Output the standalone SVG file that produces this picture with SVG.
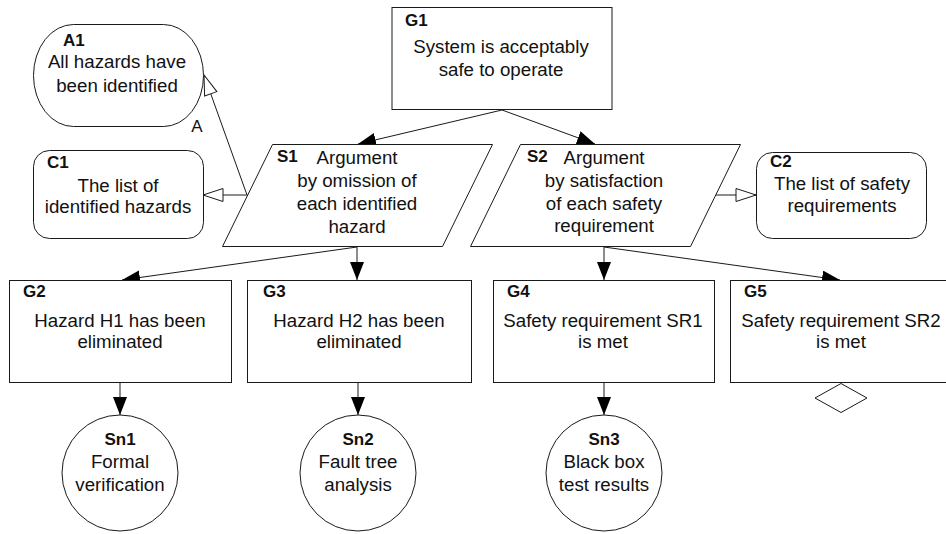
<svg xmlns="http://www.w3.org/2000/svg" width="946" height="534" viewBox="0 0 946 534">
  <style>
    .shape { fill: #ffffff; stroke: #1a1a1a; stroke-width: 1; }
    .link { fill: none; stroke: #1a1a1a; stroke-width: 1; }
    .txt { font-family: "Liberation Sans", Arial, sans-serif; font-size: 18.7px; fill: #111111; text-anchor: middle; }
    .id { font-family: "Liberation Sans", Arial, sans-serif; font-size: 17px; font-weight: bold; fill: #111111; }
    .idc { text-anchor: middle; }
  </style>
  <defs>
    <marker id="solid" markerUnits="userSpaceOnUse" markerWidth="20" markerHeight="16" refX="18" refY="7" orient="auto">
      <path d="M0,0 L18,7 L0,14 Z" fill="#000000"/>
    </marker>
    <marker id="hollow" markerUnits="userSpaceOnUse" markerWidth="24" markerHeight="18" refX="21" refY="8" orient="auto">
      <path d="M1,1.5 L21,8 L1,14.5 Z" fill="#ffffff" stroke="#1a1a1a" stroke-width="1"/>
    </marker>
  </defs>

  <!-- connectors -->
  <g id="connectors">
    <line class="link" x1="502" y1="110" x2="358" y2="144" marker-end="url(#solid)"/>
    <line class="link" x1="502" y1="110" x2="595" y2="144" marker-end="url(#solid)"/>
    <line class="link" x1="247" y1="195" x2="204" y2="75" marker-end="url(#hollow)"/>
    <line class="link" x1="247" y1="195" x2="203" y2="195" marker-end="url(#hollow)"/>
    <line class="link" x1="715" y1="195" x2="756" y2="195" marker-end="url(#hollow)"/>
    <line class="link" x1="357" y1="247" x2="122" y2="280" marker-end="url(#solid)"/>
    <line class="link" x1="357" y1="247" x2="357" y2="280" marker-end="url(#solid)"/>
    <line class="link" x1="604" y1="247" x2="604" y2="280" marker-end="url(#solid)"/>
    <line class="link" x1="604" y1="247" x2="840" y2="280" marker-end="url(#solid)"/>
    <line class="link" x1="120" y1="382" x2="120" y2="415" marker-end="url(#solid)"/>
    <line class="link" x1="358" y1="382" x2="358" y2="415" marker-end="url(#solid)"/>
    <line class="link" x1="604" y1="382" x2="604" y2="415" marker-end="url(#solid)"/>
    <text x="197" y="132" font-family="Liberation Sans, Arial, sans-serif" font-size="17" fill="#111111" text-anchor="middle">A</text>
  </g>

  <!-- goal G1 -->
  <g id="G1">
    <rect class="shape" x="392" y="7.5" width="220" height="102"/>
    <text class="id" x="405" y="26">G1</text>
    <text class="txt" x="501" y="53">System is acceptably</text>
    <text class="txt" x="501" y="76">safe to operate</text>
  </g>

  <!-- assumption A1 -->
  <g id="A1">
    <rect class="shape" x="33.5" y="24.5" width="170" height="102" rx="40" ry="51"/>
    <text class="id" x="63" y="46">A1</text>
    <text class="txt" x="117" y="68">All hazards have</text>
    <text class="txt" x="117" y="92">been identified</text>
  </g>

  <!-- context C1 -->
  <g id="C1">
    <rect class="shape" x="33.5" y="150.5" width="170" height="88" rx="16" ry="16"/>
    <text class="id" x="47" y="168">C1</text>
    <text class="txt" x="118" y="192">The list of</text>
    <text class="txt" x="118" y="213">identified hazards</text>
  </g>

  <!-- strategy S1 -->
  <g id="S1">
    <polygon class="shape" points="272.5,144.5 492.5,144.5 442.5,246.5 222.5,246.5"/>
    <text class="id" x="277" y="162">S1</text>
    <text class="txt" x="357" y="164">Argument</text>
    <text class="txt" x="357" y="187">by omission of</text>
    <text class="txt" x="357" y="210">each identified</text>
    <text class="txt" x="357" y="233">hazard</text>
  </g>

  <!-- strategy S2 -->
  <g id="S2">
    <polygon class="shape" points="520.5,144.5 740.5,144.5 690.5,246.5 470.5,246.5"/>
    <text class="id" x="527" y="162">S2</text>
    <text class="txt" x="604" y="164">Argument</text>
    <text class="txt" x="604" y="187">by satisfaction</text>
    <text class="txt" x="604" y="210">of each safety</text>
    <text class="txt" x="604" y="232">requirement</text>
  </g>

  <!-- context C2 -->
  <g id="C2">
    <rect class="shape" x="756.5" y="152.5" width="170" height="86" rx="16" ry="16"/>
    <text class="id" x="770" y="167">C2</text>
    <text class="txt" x="842" y="190">The list of safety</text>
    <text class="txt" x="842" y="212">requirements</text>
  </g>

  <!-- goal G2 -->
  <g id="G2">
    <rect class="shape" x="9.5" y="280.5" width="222" height="102"/>
    <text class="id" x="23" y="297">G2</text>
    <text class="txt" x="120" y="327">Hazard H1 has been</text>
    <text class="txt" x="120" y="348">eliminated</text>
  </g>

  <!-- goal G3 -->
  <g id="G3">
    <rect class="shape" x="247.5" y="280.5" width="224" height="102"/>
    <text class="id" x="263" y="297">G3</text>
    <text class="txt" x="359" y="327">Hazard H2 has been</text>
    <text class="txt" x="359" y="348">eliminated</text>
  </g>

  <!-- goal G4 -->
  <g id="G4">
    <rect class="shape" x="493.5" y="280.5" width="221" height="102"/>
    <text class="id" x="507" y="297">G4</text>
    <text class="txt" x="603" y="327">Safety requirement SR1</text>
    <text class="txt" x="603" y="348">is met</text>
  </g>

  <!-- goal G5 (undeveloped) -->
  <g id="G5">
    <rect class="shape" x="730.5" y="280.5" width="230" height="102"/>
    <text class="id" x="744" y="297">G5</text>
    <text class="txt" x="841" y="327">Safety requirement SR2</text>
    <text class="txt" x="841" y="348">is met</text>
    <polygon class="shape" points="815,398 841,383.5 867,398 841,412.5"/>
  </g>

  <!-- solutions -->
  <g id="Sn1">
    <circle class="shape" cx="120" cy="473" r="58"/>
    <text class="id idc" x="120" y="445">Sn1</text>
    <text class="txt" x="120" y="468">Formal</text>
    <text class="txt" x="120" y="491">verification</text>
  </g>
  <g id="Sn2">
    <circle class="shape" cx="358" cy="473" r="58"/>
    <text class="id idc" x="358" y="445">Sn2</text>
    <text class="txt" x="358" y="468">Fault tree</text>
    <text class="txt" x="358" y="491">analysis</text>
  </g>
  <g id="Sn3">
    <circle class="shape" cx="604" cy="473" r="58"/>
    <text class="id idc" x="604" y="445">Sn3</text>
    <text class="txt" x="604" y="468">Black box</text>
    <text class="txt" x="604" y="491">test results</text>
  </g>
</svg>
